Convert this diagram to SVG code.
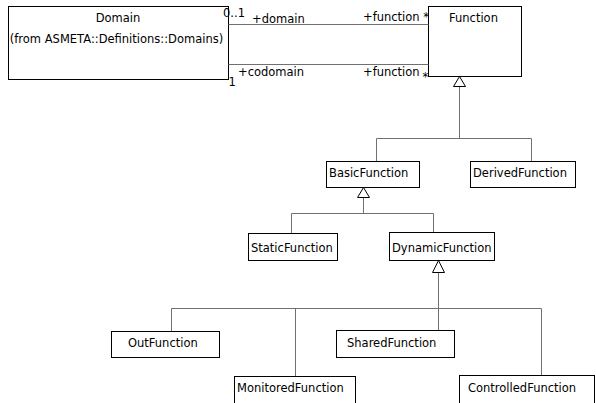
<svg xmlns="http://www.w3.org/2000/svg" width="596" height="403" viewBox="0 0 596 403">
  <style>
    .box { fill: #ffffff; stroke: #000000; stroke-width: 1; }
    .lbl { font-family: "DejaVu Sans", "Liberation Sans", sans-serif; font-size: 11.5px; fill: #000000; }
    .mid { text-anchor: middle; }
    .conn { fill: none; stroke: #707070; stroke-width: 1; }
    .gen { fill: #ffffff; stroke: #000000; stroke-width: 1; }
  </style>
  <rect width="596" height="403" fill="#ffffff"/>

  <g id="Domain">
    <rect class="box" x="8.5" y="6.5" width="220" height="73"/>
    <text class="lbl mid" x="118" y="22">Domain</text>
    <text class="lbl mid" x="116.5" y="43">(from ASMETA::Definitions::Domains)</text>
  </g>

  <g id="Function">
    <rect class="box" x="428.5" y="6.5" width="93" height="70"/>
    <text class="lbl mid" x="473.5" y="22">Function</text>
  </g>

  <g id="BasicFunction">
    <rect class="box" x="326.5" y="161.5" width="93" height="26"/>
    <text class="lbl" x="329" y="177">BasicFunction</text>
  </g>

  <g id="DerivedFunction">
    <rect class="box" x="470.5" y="161.5" width="105" height="26"/>
    <text class="lbl" x="473" y="177">DerivedFunction</text>
  </g>

  <g id="StaticFunction">
    <rect class="box" x="248.5" y="233.5" width="89" height="27"/>
    <text class="lbl" x="251" y="252">StaticFunction</text>
  </g>

  <g id="DynamicFunction">
    <rect class="box" x="389.5" y="232.5" width="105" height="28"/>
    <text class="lbl" x="392" y="252">DynamicFunction</text>
  </g>

  <g id="OutFunction">
    <rect class="box" x="111.5" y="331.5" width="108" height="26"/>
    <text class="lbl" x="128" y="347">OutFunction</text>
  </g>

  <g id="SharedFunction">
    <rect class="box" x="336.5" y="330.5" width="118" height="27"/>
    <text class="lbl" x="347" y="347">SharedFunction</text>
  </g>

  <g id="MonitoredFunction">
    <rect class="box" x="234.5" y="376.5" width="121" height="40"/>
    <text class="lbl" x="237" y="392">MonitoredFunction</text>
  </g>

  <g id="ControlledFunction">
    <rect class="box" x="459.5" y="375.5" width="135" height="40"/>
    <text class="lbl" x="468" y="392">ControlledFunction</text>
  </g>

  <!-- connectors: associations and generalizations -->
  <g id="connectors">
    <!-- Domain - Function associations -->
    <path class="conn" d="M228.5,24.5 H428.5"/>
    <path class="conn" d="M228.5,64.5 H428.5"/>
    <text class="lbl" x="223" y="17">0..1</text>
    <text class="lbl" x="252" y="23">+domain</text>
    <text class="lbl" x="363" y="20.5">+function *</text>
    <text class="lbl" x="238" y="76">+codomain</text>
    <text class="lbl" x="228.5" y="86">1</text>
    <text class="lbl" x="363" y="76">+function</text>
    <text class="lbl" x="422.5" y="81">*</text>

    <!-- Function generalization tree -->
    <path class="conn" d="M459.5,86.5 V138.5 M376.5,138.5 H531.5 M376.5,138.5 V161 M531.5,138.5 V161"/>
    <polygon class="gen" points="459.5,76.5 453.5,86.5 465.5,86.5"/>

    <!-- BasicFunction generalization tree -->
    <path class="conn" d="M363.5,197.5 V213.5 M291.5,213.5 H433.5 M291.5,213.5 V233 M433.5,213.5 V232"/>
    <polygon class="gen" points="363.5,187.5 357.5,197.5 369.5,197.5"/>

    <!-- DynamicFunction generalization tree -->
    <path class="conn" d="M438.5,272.5 V330 M171.5,308.5 H541.5 M171.5,308.5 V331 M295.5,308.5 V376 M541.5,308.5 V375"/>
    <polygon class="gen" points="438.5,260.5 432.5,272.5 444.5,272.5"/>
  </g>
</svg>
